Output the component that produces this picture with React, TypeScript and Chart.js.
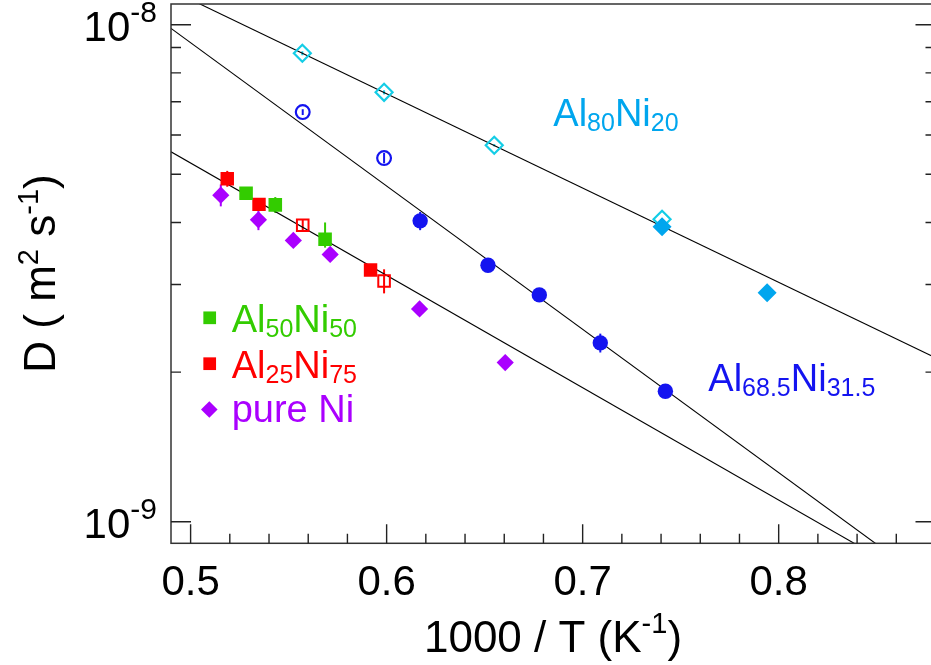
import React, { useEffect, useRef } from 'react';
import { Chart, registerables } from 'chart.js';

Chart.register(...registerables);

const FONT = '"Liberation Sans", Arial, Helvetica, sans-serif';

// ---------- data ----------
// Al80Ni20 (open diamonds and filled diamonds)
const al80OpenX = [0.557, 0.5987, 0.6549, 0.7405];
const al80OpenY = [8.76e-9, 7.31e-9, 5.72e-9, 4.06e-9];
const al80OpenErr = [0.08e-9, 0.07e-9, 0.03e-9, 0];
const al80FilledX = [0.7405, 0.7941];
const al80FilledY = [3.92e-9, 2.89e-9];

// Al68.5Ni31.5 (open and filled circles)
const al685OpenX = [0.5572, 0.5987];
const al685OpenY = [6.67e-9, 5.39e-9];
const al685OpenErr = [0.09e-9, 0.13e-9];
const al685FilledX = [0.6171, 0.6517, 0.6779, 0.709, 0.7422];
const al685FilledY = [4.03e-9, 3.28e-9, 2.86e-9, 2.29e-9, 1.83e-9];
const al685FilledErr = [0.17e-9, 0.08e-9, 0.03e-9, 0.1e-9, 0.02e-9];

// Al50Ni50
const al50X = [0.5283, 0.5432, 0.5686];
const al50Y = [4.58e-9, 4.34e-9, 3.7e-9];
const al50ErrUp = [0, 0.16e-9, 0.3e-9];
const al50ErrDown = [0, 0.16e-9, 0.14e-9];

// Al25Ni75 (filled and open squares)
const al25FilledX = [0.5187, 0.5349, 0.5918];
const al25FilledY = [4.9e-9, 4.35e-9, 3.21e-9];
const al25FilledErr = [0.18e-9, 0, 0];
const al25OpenX = [0.5572, 0.5987];
const al25OpenY = [3.95e-9, 3.05e-9];
const al25OpenErr = [0.11e-9, 0.17e-9];

// pure Ni
const niX = [0.5154, 0.5346, 0.5524, 0.5712, 0.6168, 0.6605];
const niY = [4.54e-9, 4.05e-9, 3.68e-9, 3.45e-9, 2.68e-9, 2.09e-9];
const niErr = [0.23e-9, 0.19e-9, 0, 0, 0, 0];

// Arrhenius fit lines (end points)
const fitX = [0.49, 0.88];
const fitAl80Y = [1.174e-8, 2.137e-9];
const fitAl685Y = [9.833e-9, 7.38e-10];
const fitNiY = [5.551e-9, 7.29e-10];

// axes
const xMin = 0.49;
const xMax = 0.88;
const yMin = 9.048e-10;
const yMax = 1.1006e-8;
const xMajorTicks = [0.5, 0.6, 0.7, 0.8];
const xTickLabels = ['0.5', '0.6', '0.7', '0.8'];
const xMinorTicks = [0.52, 0.54, 0.56, 0.58, 0.62, 0.64, 0.66, 0.68, 0.72, 0.74, 0.76, 0.78, 0.82, 0.84, 0.86];
const yMajorTicks = [1e-9, 1e-8];
const yTickExponents = ['-9', '-8'];
const yMinorTicks = [2e-9, 3e-9, 4e-9, 5e-9, 6e-9, 7e-9, 8e-9, 9e-9];

// colours
const CYAN_OPEN = '#14CDE6';
const CYAN = '#00A6EE';
const BLUE = '#1414F0';
const GREEN = '#33CC00';
const RED = '#FF0000';
const PURPLE = '#AA00FF';

const pts = (xs: number[], ys: number[]) => xs.map((x, i) => ({ x, y: ys[i] }));

type Part = { t: string; size: number; dy: number };

function drawRich(ctx: CanvasRenderingContext2D, parts: Part[], x: number, y: number, align: 'left' | 'center' | 'right') {
  const widths = parts.map((p) => {
    ctx.font = `${p.size}px ${FONT}`;
    return ctx.measureText(p.t).width;
  });
  const total = widths.reduce((a, b) => a + b, 0);
  let cx = align === 'left' ? x : align === 'center' ? x - total / 2 : x - total;
  ctx.textAlign = 'left';
  ctx.textBaseline = 'alphabetic';
  parts.forEach((p, i) => {
    ctx.font = `${p.size}px ${FONT}`;
    ctx.fillText(p.t, cx, y + p.dy);
    cx += widths[i];
  });
}

const errorBarPlugin = {
  id: 'errorBars',
  beforeDatasetsDraw(chart: any) {
    const ctx = chart.ctx as CanvasRenderingContext2D;
    const ys = chart.scales.y;
    chart.data.datasets.forEach((ds: any, di: number) => {
      if (!ds.errUp) return;
      const meta = chart.getDatasetMeta(di);
      ctx.save();
      ctx.strokeStyle = ds.errColor;
      ctx.lineWidth = 2;
      ds.data.forEach((p: any, i: number) => {
        const up = ds.errUp[i];
        const dn = ds.errDown ? ds.errDown[i] : up;
        if (!up && !dn) return;
        const el = meta.data[i];
        const y1 = ys.getPixelForValue(p.y + up);
        const y2 = ys.getPixelForValue(p.y - dn);
        ctx.beginPath();
        ctx.moveTo(el.x, y1);
        ctx.lineTo(el.x, y2);
        ctx.stroke();
      });
      ctx.restore();
    });
  },
};

const framePlugin = {
  id: 'frame',
  afterDraw(chart: any) {
    const ctx = chart.ctx as CanvasRenderingContext2D;
    const { left, right, top, bottom } = chart.chartArea;
    const xs = chart.scales.x;
    const ys = chart.scales.y;
    ctx.save();
    // frame
    ctx.strokeStyle = '#333';
    ctx.lineWidth = 1.5;
    ctx.strokeRect(left, top, right - left, bottom - top);
    // ticks
    ctx.lineWidth = 1.4;
    ctx.strokeStyle = '#222';
    ctx.beginPath();
    xMajorTicks.forEach((v) => {
      const px = xs.getPixelForValue(v);
      ctx.moveTo(px, bottom);
      ctx.lineTo(px, bottom - 19);
    });
    xMinorTicks.forEach((v) => {
      const px = xs.getPixelForValue(v);
      ctx.moveTo(px, bottom);
      ctx.lineTo(px, bottom - 9.5);
    });
    yMajorTicks.forEach((v) => {
      const py = ys.getPixelForValue(v);
      ctx.moveTo(left, py);
      ctx.lineTo(left + 20, py);
      ctx.moveTo(right, py);
      ctx.lineTo(right - 20, py);
    });
    yMinorTicks.forEach((v) => {
      const py = ys.getPixelForValue(v);
      ctx.moveTo(left, py);
      ctx.lineTo(left + 10, py);
      ctx.moveTo(right, py);
      ctx.lineTo(right - 10, py);
    });
    ctx.stroke();

    ctx.fillStyle = '#000';
    // x tick labels
    xMajorTicks.forEach((v, i) => {
      const px = xs.getPixelForValue(v);
      drawRich(ctx, [{ t: xTickLabels[i], size: 42, dy: 0 }], px, bottom + 51.7, 'center');
    });
    // y tick labels
    yMajorTicks.forEach((v, i) => {
      const py = ys.getPixelForValue(v);
      drawRich(
        ctx,
        [
          { t: '10', size: 42, dy: 0 },
          { t: yTickExponents[i], size: 30, dy: -19 },
        ],
        157,
        py + 16.5,
        'right'
      );
    });

    // x title
    drawRich(
      ctx,
      [
        { t: '1000 / T (K', size: 44, dy: 0 },
        { t: '-1', size: 29, dy: -19 },
        { t: ')', size: 44, dy: 0 },
      ],
      553,
      651.7,
      'center'
    );

    // y title
    ctx.save();
    ctx.translate(55, 273.5);
    ctx.rotate(-Math.PI / 2);
    drawRich(
      ctx,
      [
        { t: 'D ( m', size: 44, dy: 0 },
        { t: '2', size: 29, dy: -17 },
        { t: ' s', size: 44, dy: 0 },
        { t: '-1', size: 29, dy: -17 },
        { t: ')', size: 44, dy: 0 },
      ],
      0,
      0,
      'center'
    );
    ctx.restore();

    // series labels
    ctx.fillStyle = CYAN;
    drawRich(
      ctx,
      [
        { t: 'Al', size: 38, dy: 0 },
        { t: '80', size: 25, dy: 5 },
        { t: 'Ni', size: 38, dy: 0 },
        { t: '20', size: 25, dy: 5 },
      ],
      553.3,
      125.7,
      'left'
    );
    ctx.fillStyle = BLUE;
    drawRich(
      ctx,
      [
        { t: 'Al', size: 38, dy: 0 },
        { t: '68.5', size: 25, dy: 5 },
        { t: 'Ni', size: 38, dy: 0 },
        { t: '31.5', size: 25, dy: 5 },
      ],
      708.3,
      390.7,
      'left'
    );

    // legend
    ctx.fillStyle = GREEN;
    ctx.fillRect(209.7 - 6.35, 317.8 - 6.35, 12.7, 12.7);
    drawRich(
      ctx,
      [
        { t: 'Al', size: 38, dy: 0 },
        { t: '50', size: 25, dy: 5 },
        { t: 'Ni', size: 38, dy: 0 },
        { t: '50', size: 25, dy: 5 },
      ],
      231.7,
      331.7,
      'left'
    );
    ctx.fillStyle = RED;
    ctx.fillRect(209.7 - 6.35, 363.7 - 6.35, 12.7, 12.7);
    drawRich(
      ctx,
      [
        { t: 'Al', size: 38, dy: 0 },
        { t: '25', size: 25, dy: 5 },
        { t: 'Ni', size: 38, dy: 0 },
        { t: '75', size: 25, dy: 5 },
      ],
      231.7,
      378.3,
      'left'
    );
    ctx.fillStyle = PURPLE;
    ctx.beginPath();
    ctx.moveTo(209.3 - 8.3, 409.5);
    ctx.lineTo(209.3, 409.5 - 8.3);
    ctx.lineTo(209.3 + 8.3, 409.5);
    ctx.lineTo(209.3, 409.5 + 8.3);
    ctx.closePath();
    ctx.fill();
    drawRich(ctx, [{ t: 'pure Ni', size: 38, dy: 0 }], 231.7, 421.7, 'left');

    ctx.restore();
  },
};

export default function App() {
  const ref = useRef<HTMLCanvasElement>(null);

  useEffect(() => {
    const canvas = ref.current;
    if (!canvas) return;
    const lineDs = (ys: number[]) => ({
      type: 'line' as const,
      data: pts(fitX, ys),
      showLine: true,
      borderColor: '#000',
      borderWidth: 1.1,
      pointRadius: 0,
      fill: false,
      clip: 0,
      order: 20,
    });
    const chart = new Chart(canvas, {
      type: 'scatter',
      data: {
        datasets: [
          {
            data: pts(al80FilledX, al80FilledY),
            pointStyle: 'rectRot',
            pointRadius: 9.5,
            backgroundColor: CYAN,
            borderColor: CYAN,
            borderWidth: 0,
            order: 1,
          },
          {
            data: pts(al80OpenX, al80OpenY),
            pointStyle: 'rectRot',
            pointRadius: 8.5,
            backgroundColor: 'rgba(0,0,0,0)',
            borderColor: CYAN_OPEN,
            borderWidth: 2.2,
            errUp: al80OpenErr,
            errColor: CYAN_OPEN,
            order: 2,
          },
          {
            data: pts(al685FilledX, al685FilledY),
            pointStyle: 'circle',
            pointRadius: 7.7,
            backgroundColor: BLUE,
            borderColor: BLUE,
            borderWidth: 0,
            errUp: al685FilledErr,
            errColor: BLUE,
            order: 3,
          },
          {
            data: pts(al685OpenX, al685OpenY),
            pointStyle: 'circle',
            pointRadius: 6.9,
            backgroundColor: 'rgba(0,0,0,0)',
            borderColor: BLUE,
            borderWidth: 2.2,
            errUp: al685OpenErr,
            errColor: BLUE,
            order: 4,
          },
          {
            data: pts(al50X, al50Y),
            pointStyle: 'rect',
            pointRadius: 9.6,
            backgroundColor: GREEN,
            borderColor: GREEN,
            borderWidth: 0,
            errUp: al50ErrUp,
            errDown: al50ErrDown,
            errColor: GREEN,
            order: 5,
          },
          {
            data: pts(al25FilledX, al25FilledY),
            pointStyle: 'rect',
            pointRadius: 9.5,
            backgroundColor: RED,
            borderColor: RED,
            borderWidth: 0,
            errUp: al25FilledErr,
            errColor: RED,
            order: 6,
          },
          {
            data: pts(al25OpenX, al25OpenY),
            pointStyle: 'rect',
            pointRadius: 8.2,
            backgroundColor: 'rgba(0,0,0,0)',
            borderColor: RED,
            borderWidth: 2,
            errUp: al25OpenErr,
            errColor: RED,
            order: 7,
          },
          {
            data: pts(niX, niY),
            pointStyle: 'rectRot',
            pointRadius: 8.6,
            backgroundColor: PURPLE,
            borderColor: PURPLE,
            borderWidth: 0,
            errUp: niErr,
            errColor: PURPLE,
            order: 8,
          },
          lineDs(fitAl80Y),
          lineDs(fitAl685Y),
          lineDs(fitNiY),
        ] as any,
      },
      options: {
        responsive: false,
        animation: false,
        devicePixelRatio: 1,
        layout: { autoPadding: false, padding: { left: 171, top: 4, right: 24.5, bottom: 121.7 } },
        scales: {
          x: { type: 'linear', min: xMin, max: xMax, display: false },
          y: { type: 'logarithmic', min: yMin, max: yMax, display: false },
        },
        plugins: {
          legend: { display: false },
          tooltip: { enabled: false },
        },
      },
      plugins: [errorBarPlugin, framePlugin],
    });
    return () => chart.destroy();
  }, []);

  return (
    <div
      style={{
        position: 'fixed',
        left: 0,
        top: 0,
        width: 931,
        height: 665,
        overflow: 'hidden',
        background: '#fff',
      }}
    >
      <canvas ref={ref} width={960} height={665} style={{ display: 'block', width: 960, height: 665 }} />
    </div>
  );
}
